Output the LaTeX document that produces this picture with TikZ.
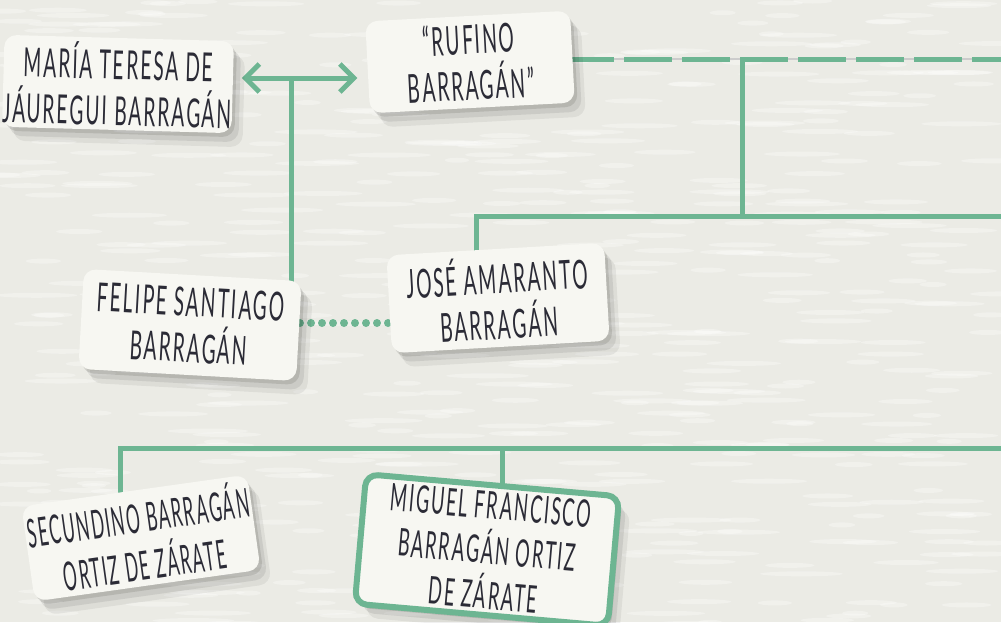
\documentclass[tikz,border=0pt]{standalone}
\usepackage{fontspec}
\newfontfamily\cardfont{Lato}[FakeStretch=0.48, LetterSpace=5]
\newfontfamily\cardfontnarrow{Lato}[FakeStretch=0.43, LetterSpace=4]
\usetikzlibrary{arrows.meta,shadows,calc}
\definecolor{treegreen}{HTML}{6DB592}
\definecolor{cardwhite}{HTML}{F7F7F2}
\definecolor{paper}{HTML}{EBEBE5}
\definecolor{ink}{HTML}{2B2B36}
\pgfdeclarelayer{paperlayer}
\pgfdeclarelayer{lines}
\pgfsetlayers{paperlayer,lines,main}
\tikzset{
  card/.style={fill=cardwhite, rounded corners=12pt, align=center, text=ink,
    font=\cardfont\fontsize{40}{46}\selectfont, inner sep=0pt,
    drop shadow={shadow xshift=3pt, shadow yshift=-4pt, opacity=.10, fill=black},
    drop shadow={shadow xshift=7pt, shadow yshift=-9pt, opacity=.08, fill=black},
    drop shadow={shadow xshift=11pt, shadow yshift=-14pt, opacity=.06, fill=black}},
  branch/.style={treegreen, line width=5pt},
  barb/.tip={Straight Barb[length=14pt,width=28pt]},
}

\begin{document}
\begin{tikzpicture}[x=1pt,y=-1pt]
\useasboundingbox (0,0) rectangle (1001,622);
\begin{pgfonlayer}{paperlayer}
\fill[paper] (0,0) rectangle (1001,622);
\pgfmathsetseed{7}
\foreach \row in {0,...,62}
  \foreach \k in {1,...,9}
    \fill[white, opacity=.3] ({rnd*1001},{\row*10+rnd*6}) ellipse ({12+rnd*30} and 2.5);
\end{pgfonlayer}

% cards
\node[card, minimum width=222pt, minimum height=92pt, rotate=-1.6] (maria) at (118,84) {MARÍA TERESA DE\\JÁUREGUI BARRAGÁN};
\node[card, minimum width=205pt, minimum height=92pt, rotate=3] (rufino) at (470,62) {“RUFINO\\BARRAGÁN”};
\node[card, minimum width=218pt, minimum height=100pt, rotate=-3.2] (felipe) at (190,325) {FELIPE SANTIAGO\\BARRAGÁN};
\node[card, minimum width=218pt, minimum height=98pt, rotate=3.3] (jose) at (498,298) {JOSÉ AMARANTO\\BARRAGÁN};
\node[card, font=\cardfontnarrow\fontsize{40}{48}\selectfont, minimum width=228pt, minimum height=96pt, rotate=8] (secundino) at (141,538) {SECUNDINO BARRAGÁN\\ORTIZ DE ZÁRATE};
\node[card, font=\cardfont\fontsize{38}{45}\selectfont, draw=treegreen, line width=6pt, minimum width=254pt, minimum height=130pt, rotate=-5] (miguel) at (487,550) {MIGUEL FRANCISCO\\BARRAGÁN ORTIZ\\DE ZÁRATE};

% junctions
\coordinate (couple) at (291,78);
\coordinate (rufinoline) at (1001,59);
\coordinate (rufinodrop) at (742,59);
\coordinate (sibbar) at (742,216);
\coordinate (sibright) at (1001,216);
\coordinate (josedrop) at (476,216);
\coordinate (felipejose) at (340,323);
\coordinate (kidsbar) at (120,448);
\coordinate (kidsright) at (1001,448);
\coordinate (miguelup) at (502,448);

% connectors
\begin{pgfonlayer}{lines}
\draw[branch, barb-barb, shorten <=9pt, shorten >=10pt] (maria.east |- couple) -- (rufino.west |- couple);
\draw[branch] (couple) -- (couple |- felipe.center);
\draw[gray!40, line width=1.2pt] (rufino.center |- rufinoline) -- (rufinoline);
\draw[branch, dash pattern=on 48pt off 10pt, dash phase=20pt] (rufino.center |- rufinoline) -- (rufinoline);
\draw[branch] (rufinodrop) -- (sibbar);
\draw[branch] (sibright) -- (josedrop) -- (josedrop |- jose.center);
\draw[treegreen, line width=8pt, line cap=round, dash pattern=on 0pt off 11pt] (felipejose -| felipe.center) -- (felipejose -| jose.center);
\draw[branch] (kidsright) -- (kidsbar) -- (kidsbar |- secundino.center);
\draw[branch] (miguelup) -- (miguelup |- miguel.center);
\end{pgfonlayer}
\end{tikzpicture}
\end{document}
